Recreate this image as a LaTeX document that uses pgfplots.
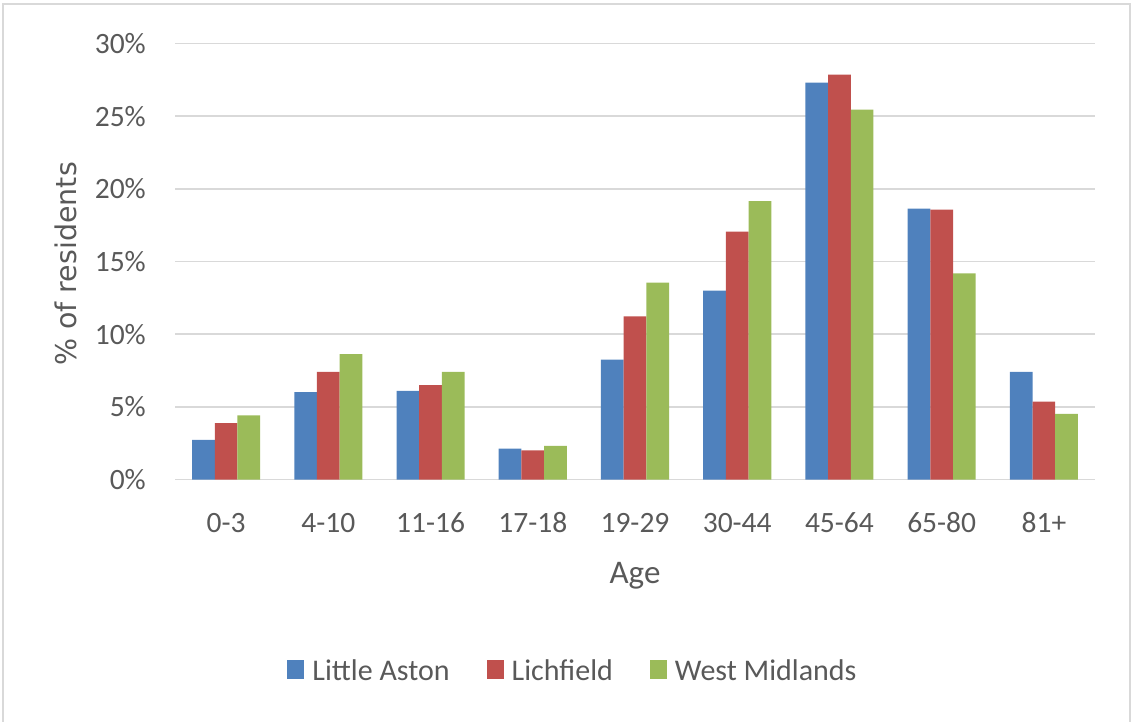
\documentclass[border=0pt]{standalone}
\usepackage{pgfplots}
\pgfplotsset{compat=1.18}
\usepackage{fontspec}
\setmainfont{Carlito}
\newfontfamily\labelfont{DejaVu Sans}

\definecolor{laBlue}{HTML}{4F81BD}
\definecolor{liRed}{HTML}{C0504D}
\definecolor{wmGreen}{HTML}{9BBB59}
\definecolor{gridGray}{HTML}{D9D9D9}
\definecolor{textGray}{HTML}{595959}

% Share of residents (%) by age band
\pgfplotstableread{
x  la     li     wm
0  2.73   3.88   4.41
1  6.01   7.41   8.63
2  6.10   6.50   7.41
3  2.13   2.00   2.32
4  8.24   11.22  13.54
5  12.99  17.05  19.16
6  27.31  27.86  25.45
7  18.64  18.57  14.18
8  7.41   5.35   4.52
}\agedata

\begin{document}
\begin{tikzpicture}
\useasboundingbox (0,0) rectangle (1131bp,722bp);
% chart frame
\draw[gridGray, line width=1.5bp] (3bp,0) -- (3bp,718bp) -- (1130bp,718bp) -- (1130bp,0);
\begin{axis}[
  at={(175bp,242.5bp)}, anchor=south west,
  scale only axis, width=920bp, height=436bp,
  ybar=0pt, bar width=22.7bp,
  xmin=-0.5, xmax=8.5, ymin=0, ymax=30,
  xtick=data,
  xticklabels={0-3,4-10,11-16,17-18,19-29,30-44,45-64,65-80,81+},
  ytick={0,5,...,30},
  yticklabels={0\%,5\%,10\%,15\%,20\%,25\%,30\%},
  major tick length=0pt,
  axis line style={draw=none},
  ymajorgrids, grid style={gridGray, line width=1.5bp},
  tick label style={font=\fontsize{29.5bp}{34bp}\selectfont, text=textGray, inner sep=0pt},
  yticklabel style={anchor=east, xshift=-29bp},
  xticklabel style={anchor=base, yshift=-52.5bp},
  xlabel={Age},
  xlabel style={font=\fontsize{33bp}{38bp}\selectfont, text=textGray, inner sep=0pt,
    at={(axis description cs:0.5,-0.2388)}, anchor=base},
  ylabel={\% of residents},
  ylabel style={font=\labelfont\fontsize{28.5bp}{33bp}\selectfont, text=textGray, inner sep=0pt,
    at={(axis description cs:-0.1068,0.4943)}, anchor=base},
  legend columns=3,
  legend style={draw=none, fill=none, font=\fontsize{30bp}{34bp}\selectfont, text=textGray,
    at={(axis description cs:0.4315,-0.439)}, anchor=center,
    /tikz/every even column/.style={column sep=37bp},
    nodes={inner sep=0pt}},
  legend image code/.code={\fill[#1] (0bp,-8bp) rectangle (17bp,11bp);},
]
\addplot[fill=laBlue, draw=none] table[x=x, y=la] {\agedata};
\addplot[fill=liRed, draw=none] table[x=x, y=li] {\agedata};
\addplot[fill=wmGreen, draw=none] table[x=x, y=wm] {\agedata};
\legend{\hspace{8bp}Little Aston, \hspace{8bp}Lichfield, \hspace{8bp}West Midlands}
\end{axis}
\end{tikzpicture}
\end{document}
